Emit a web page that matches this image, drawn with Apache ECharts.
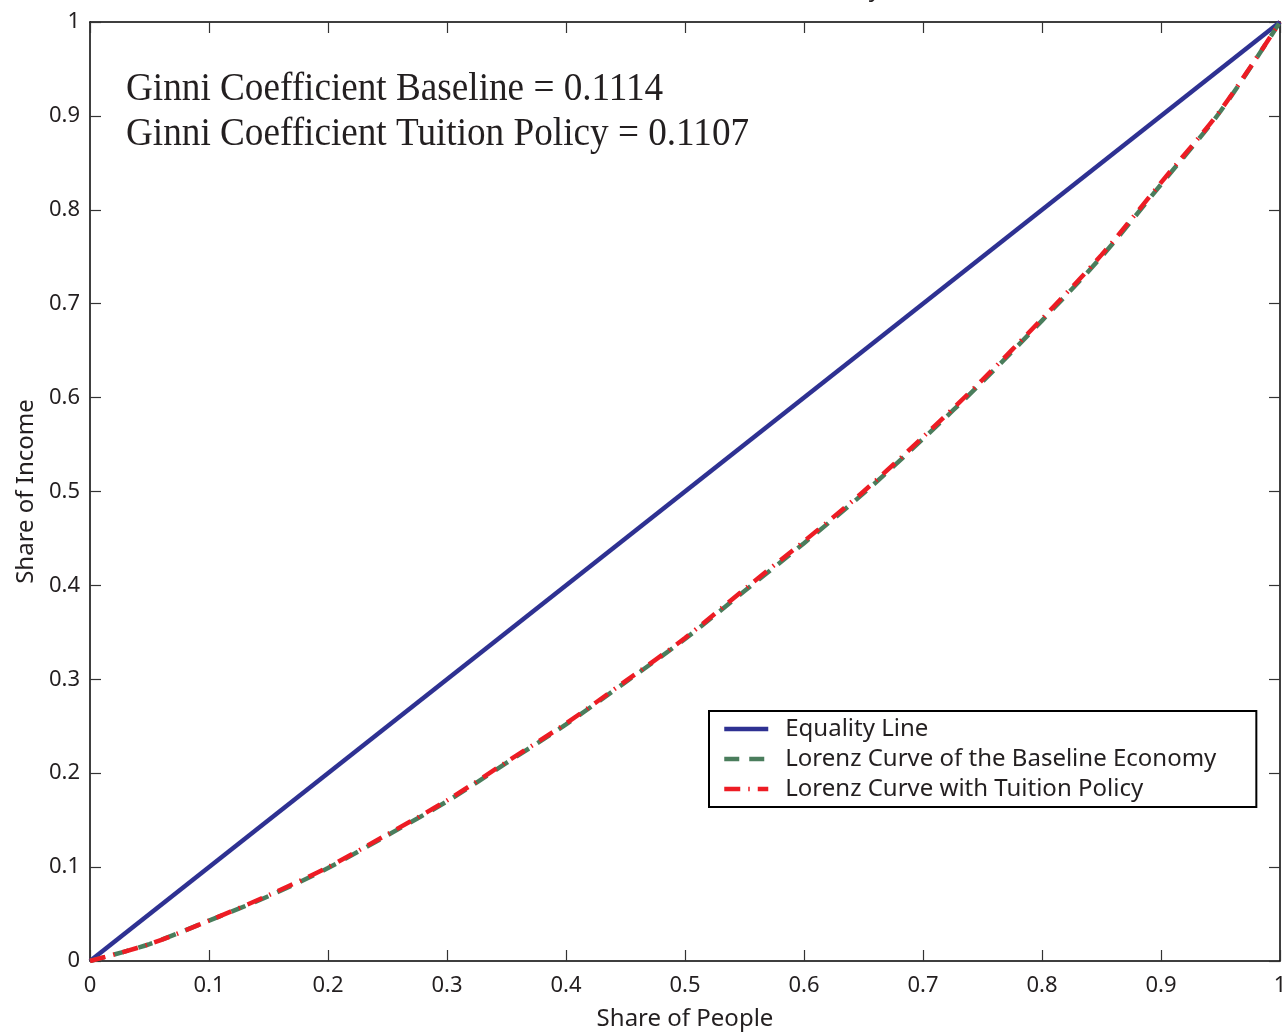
<!DOCTYPE html>
<html>
<head>
<meta charset="utf-8">
<script src="https://cdn.jsdelivr.net/npm/echarts@6/dist/echarts.min.js"></script>
<style>
html,body{margin:0;padding:0;background:#fff;}
#chart{width:1284px;height:1032px;}
</style>
</head>
<body>
<div id="chart"></div>
<script>
// Share of people (x) and share of income (y)
const shareOfPeople = [0, 0.05, 0.1, 0.15, 0.2, 0.25, 0.3, 0.35, 0.4, 0.45, 0.5, 0.55, 0.6, 0.65, 0.7, 0.75, 0.8, 0.85, 0.9, 0.95, 1];
const baselineIncome = [0, 0.018, 0.043, 0.069, 0.099, 0.134, 0.170, 0.211, 0.252, 0.297, 0.343, 0.394, 0.445, 0.498, 0.556, 0.617, 0.682, 0.750, 0.827, 0.905, 1];
const tuitionIncome  = [0, 0.018, 0.043, 0.070, 0.100, 0.135, 0.171, 0.212, 0.253, 0.298, 0.344, 0.396, 0.447, 0.500, 0.558, 0.619, 0.684, 0.752, 0.829, 0.906, 1];
const equalityX = [0, 1];
const equalityY = [0, 1];
const seriesNames = ['Equality Line', 'Lorenz Curve of the Baseline Economy', 'Lorenz Curve with Tuition Policy'];
const annotations = ['Ginni Coefficient Baseline = 0.1114', 'Ginni Coefficient Tuition Policy = 0.1107'];
const xAxisName = 'Share of People';
const yAxisName = 'Share of Income';
const titleText = 'Lorenz Curve of the Economy';

const zip = (xs, ys) => xs.map((x, i) => [x, ys[i]]);
const sans = '"Noto Sans", "Open Sans", sans-serif';
const serif = '"Liberation Serif", "DejaVu Serif", serif';

const chart = echarts.init(document.getElementById('chart'), null, {renderer: 'canvas'});

const axisCommon = {
  type: 'value', min: 0, max: 1, interval: 0.1,
  axisLine: {show: true, onZero: false, lineStyle: {color: '#000', width: 1.5}},
  axisTick: {show: true, inside: true, length: 11, lineStyle: {color: '#333', width: 1.2}},
  splitLine: {show: false}
};

chart.setOption({
  animation: false,
  backgroundColor: '#fff',
  grid: {left: 90, right: 4, top: 22, bottom: 71, containLabel: false, outerBoundsMode: 'none'},
  xAxis: [
    Object.assign({}, axisCommon, {
      position: 'bottom',
      name: xAxisName, nameLocation: 'middle', nameGap: 46,
      nameTextStyle: {fontFamily: sans, fontSize: 24, color: '#231f20'},
      axisLabel: {show: true, margin: 14, fontFamily: sans, fontSize: 22, color: '#231f20'}
    }),
    Object.assign({}, axisCommon, {position: 'top', axisLabel: {show: false}})
  ],
  yAxis: [
    Object.assign({}, axisCommon, {
      position: 'left',
      name: yAxisName, nameLocation: 'middle', nameGap: 52,
      nameTextStyle: {fontFamily: sans, fontSize: 24, color: '#231f20'},
      axisLabel: {show: true, margin: 10, fontFamily: sans, fontSize: 22, color: '#231f20'}
    }),
    Object.assign({}, axisCommon, {position: 'right', axisLabel: {show: false}})
  ],
  legend: {
    orient: 'vertical',
    left: 709, top: 711,
    padding: [6, 40, 6, 13],
    itemWidth: 44, itemHeight: 24, itemGap: 6,
    backgroundColor: '#fff',
    borderColor: '#000', borderWidth: 2, borderRadius: 0,
    itemStyle: {opacity: 0, borderWidth: 0},
    lineStyle: {width: 4.5},
    textStyle: {fontFamily: sans, fontSize: 24, color: '#231f20', padding: [0, 0, 0, 12], lineHeight: 24},
    data: seriesNames
  },
  graphic: [
    {type: 'text', x: 126, y: 89, scaleX: 0.93, style: {text: annotations[0], font: '40px ' + serif, fill: '#231f20', verticalAlign: 'middle', align: 'left'}},
    {type: 'text', x: 126, y: 134, scaleX: 0.93, style: {text: annotations[1], font: '40px ' + serif, fill: '#231f20', verticalAlign: 'middle', align: 'left'}},
    {type: 'text', x: 881, y: 1, style: {text: titleText, font: '24px ' + sans, fill: '#231f20', verticalAlign: 'bottom', align: 'right'}}
  ],
  series: [
    {
      name: seriesNames[0], type: 'line', data: zip(equalityX, equalityY),
      symbol: 'none', lineStyle: {color: '#2e3192', width: 4.5, type: 'solid'}, itemStyle: {color: '#2e3192'}, z: 2
    },
    {
      name: seriesNames[1], type: 'line', data: zip(shareOfPeople, baselineIncome), smooth: 0.3,
      symbol: 'none', lineStyle: {color: '#4a7d5c', width: 4.5, type: [15, 10]}, itemStyle: {color: '#4a7d5c'}, z: 3
    },
    {
      name: seriesNames[2], type: 'line', data: zip(shareOfPeople, tuitionIncome), smooth: 0.3,
      symbol: 'none', lineStyle: {color: '#ed1c24', width: 4.5, type: [16, 8, 1.5, 8]}, itemStyle: {color: '#ed1c24'}, z: 4
    }
  ]
});
</script>
</body>
</html>
